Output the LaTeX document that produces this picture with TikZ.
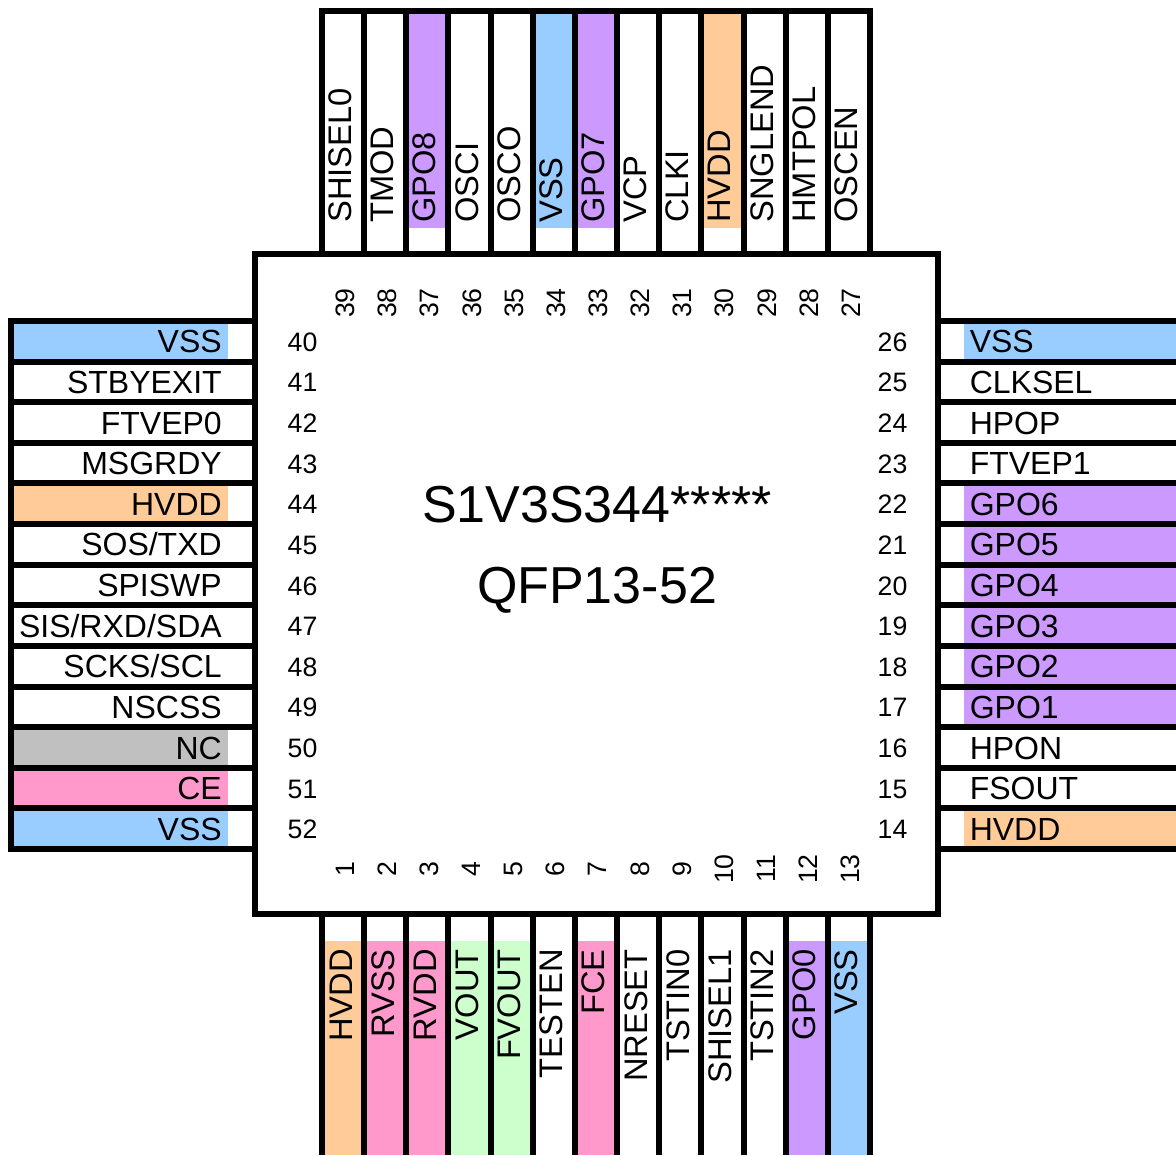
\documentclass[tikz,border=0pt]{standalone}
\usepackage{fontspec}
\setmainfont{Liberation Sans}
\definecolor{cblue}{HTML}{99CCFF}
\definecolor{cpurple}{HTML}{CC99FF}
\definecolor{corange}{HTML}{FFCC99}
\definecolor{cpink}{HTML}{FF99CC}
\definecolor{cgreen}{HTML}{CCFFCC}
\definecolor{cgray}{HTML}{C0C0C0}
\definecolor{cnone}{HTML}{FFFFFF}
\tikzset{
  pinline/.style={line width=4.5pt,black,line cap=butt},
  pinlabel/.style={inner sep=0pt,font=\fontsize{24}{28}\selectfont},
  vpinlabel/.style={inner sep=0pt,font=\fontsize{24.5}{28}\selectfont},
  numlabel/.style={inner sep=0pt,font=\fontsize{20}{24}\selectfont},
  titlelabel/.style={inner sep=0pt,font=\fontsize{39}{46}\selectfont},
}
\begin{document}
\begin{tikzpicture}[x=0.75pt,y=-0.75pt]
\useasboundingbox (0,0) rectangle (1176,1155);
\fill[white] (0,0) rectangle (1176,1155);
% top pins
\foreach \i/\n/\t/\c in {0/39/SHISEL0/cnone,1/38/TMOD/cnone,2/37/GPO8/cpurple,3/36/OSCI/cnone,4/35/OSCO/cnone,5/34/VSS/cblue,6/33/GPO7/cpurple,7/32/VCP/cnone,8/31/CLKI/cnone,9/30/HVDD/corange,10/29/SNGLEND/cnone,11/28/HMTPOL/cnone,12/27/OSCEN/cnone}{
  \pgfmathsetmacro{\xa}{322+42.15*\i}
  \pgfmathsetmacro{\xb}{\xa+42.15}
  \pgfmathsetmacro{\xc}{\xa+21.08+8.5}
  \pgfmathsetmacro{\xd}{\xa+21.08+11.5}
  \fill[\c] (\xa,11) rectangle (\xb,228);
  \node[vpinlabel,rotate=90,anchor=base west] (t\n) at (\xc,223) {\t};
  \node[numlabel,rotate=90,anchor=base] (nt\n) at (\xd,303) {\n};
}
% bottom pins
\foreach \i/\n/\t/\c in {0/1/HVDD/corange,1/2/RVSS/cpink,2/3/RVDD/cpink,3/4/VOUT/cgreen,4/5/FVOUT/cgreen,5/6/TESTEN/cnone,6/7/FCE/cpink,7/8/NRESET/cnone,8/9/TSTIN0/cnone,9/10/SHISEL1/cnone,10/11/TSTIN2/cnone,11/12/GPO0/cpurple,12/13/VSS/cblue}{
  \pgfmathsetmacro{\xa}{322+42.15*\i}
  \pgfmathsetmacro{\xb}{\xa+42.15}
  \pgfmathsetmacro{\xc}{\xa+21.08+9}
  \pgfmathsetmacro{\xd}{\xa+21.08+11}
  \fill[\c] (\xa,941) rectangle (\xb,1155);
  \node[vpinlabel,rotate=90,anchor=base east] (b\n) at (\xc,949) {\t};
  \node[numlabel,rotate=90,anchor=base] (nb\n) at (\xd,869) {\n};
}
% left pins
\foreach \i/\n/\t/\c in {0/40/VSS/cblue,1/41/STBYEXIT/cnone,2/42/FTVEP0/cnone,3/43/MSGRDY/cnone,4/44/HVDD/corange,5/45/SOS\slash TXD/cnone,6/46/SPISWP/cnone,7/47/SIS\slash RXD\slash SDA/cnone,8/48/SCKS\slash SCL/cnone,9/49/NSCSS/cnone,10/50/NC/cgray,11/51/CE/cpink,12/52/VSS/cblue}{
  \pgfmathsetmacro{\ya}{321+40.62*\i}
  \pgfmathsetmacro{\yb}{\ya+40.62}
  \pgfmathsetmacro{\yc}{\ya+20.31+11.5}
  \pgfmathsetmacro{\yd}{\ya+20.31+10}
  \fill[\c] (10.5,\ya) rectangle (228,\yb);
  \node[pinlabel,anchor=base east] (l\n) at (222,\yc) {\t};
  \node[numlabel,anchor=base] (nl\n) at (302.5,\yd) {\n};
}
% right pins
\foreach \i/\n/\t/\c in {0/26/VSS/cblue,1/25/CLKSEL/cnone,2/24/HPOP/cnone,3/23/FTVEP1/cnone,4/22/GPO6/cpurple,5/21/GPO5/cpurple,6/20/GPO4/cpurple,7/19/GPO3/cpurple,8/18/GPO2/cpurple,9/17/GPO1/cpurple,10/16/HPON/cnone,11/15/FSOUT/cnone,12/14/HVDD/corange}{
  \pgfmathsetmacro{\ya}{321+40.62*\i}
  \pgfmathsetmacro{\yb}{\ya+40.62}
  \pgfmathsetmacro{\yc}{\ya+20.31+11.5}
  \pgfmathsetmacro{\yd}{\ya+20.31+10}
  \fill[\c] (964,\ya) rectangle (1176,\yb);
  \node[pinlabel,anchor=base west] (r\n) at (969.5,\yc) {\t};
  \node[numlabel,anchor=base] (nr\n) at (892.5,\yd) {\n};
}
% pin separators
\foreach \i in {0,...,13}{
  \pgfmathsetmacro{\xa}{322+42.15*\i}
  \pgfmathsetmacro{\ya}{321+40.62*\i}
  \draw[pinline] (\xa,8) -- (\xa,254);
  \draw[pinline] (\xa,914) -- (\xa,1155);
  \draw[pinline] (8,\ya) -- (255,\ya);
  \draw[pinline] (938,\ya) -- (1176,\ya);
}
\draw[pinline] (319,11) -- (873,11);
\draw[pinline] (10.5,318) -- (10.5,852);
% package body
\draw[pinline,line join=miter] (255,254) rectangle (938,914);
\node[titlelabel,anchor=base] (title1) at (597,522) {S1V3S344*****};
\node[titlelabel,anchor=base] (title2) at (597,603) {QFP13-52};
\end{tikzpicture}
\end{document}
